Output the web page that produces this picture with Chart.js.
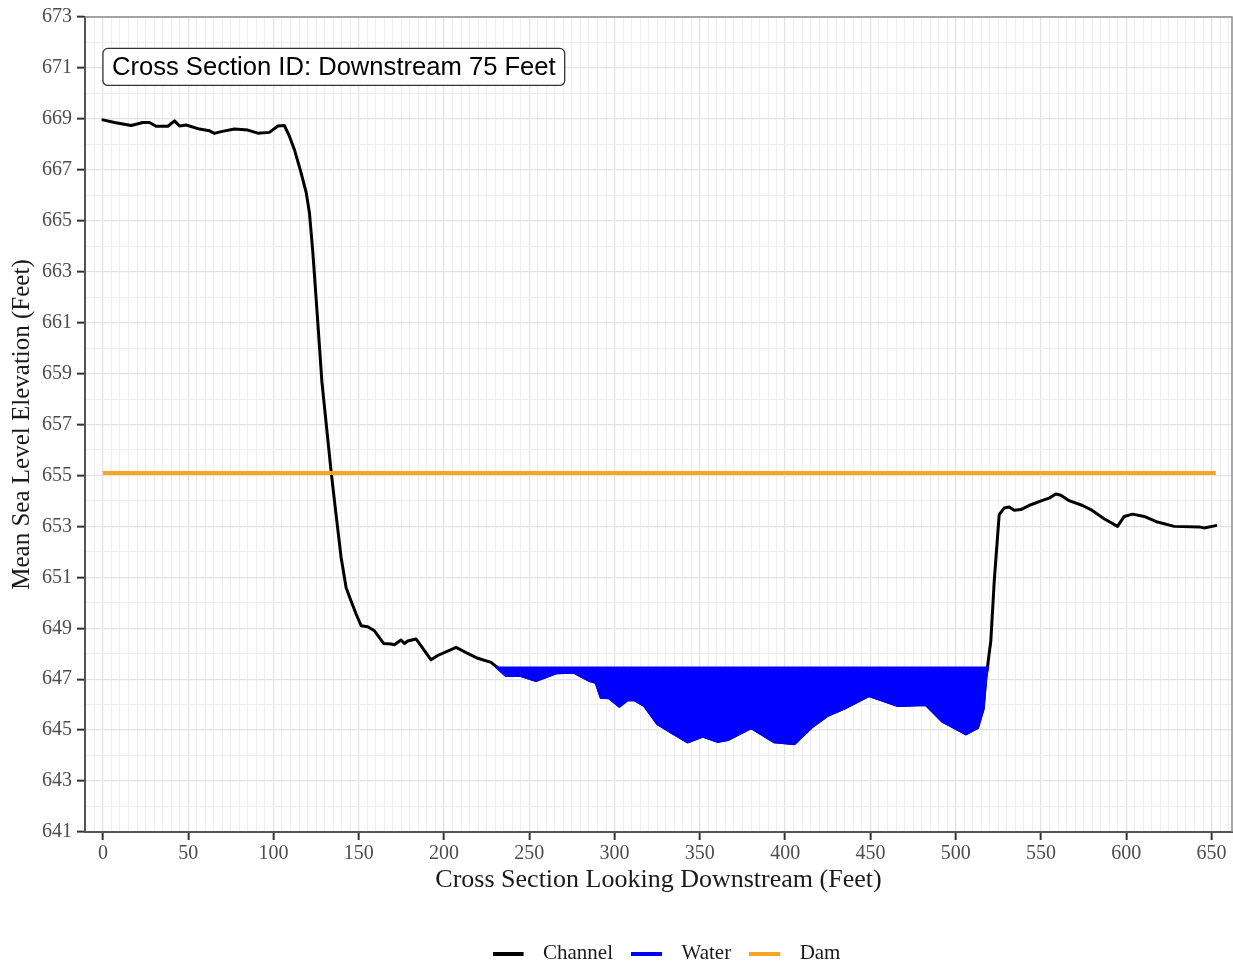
<!DOCTYPE html>
<html>
<head>
<meta charset="utf-8">
<script src="https://cdn.jsdelivr.net/npm/chart.js@4.4.1/dist/chart.umd.min.js"></script>
<style>
html,body{margin:0;padding:0;background:#ffffff;}
#wrap{width:1233px;height:966px;position:relative;}
</style>
</head>
<body>
<div id="wrap"><canvas id="c" width="1233" height="966"></canvas></div>
<script>
// ---- data ----
const seriesNames = ['Channel', 'Water', 'Dam'];
const seriesColors = ['#000000', '#0000FF', '#F5A623'];

const channelX = [0, 6.8, 16.6, 23.4, 27.3, 31.2, 38.1, 42, 44.9, 48.8, 56.6, 62.5, 65.4, 69.3, 77.1, 85, 90.8, 97.6, 102.6, 106.4, 109.4, 112.3, 116.2, 119.2, 121.1, 123.1, 125.8, 128.4, 133.8, 136.7, 139.7, 140.7, 142.6, 145.5, 148.5, 151.4, 155.3, 159.2, 164.7, 169, 170.9, 174.8, 176.8, 178.7, 183.6, 192.4, 196.3, 207.1, 213.9, 219.8, 227.6, 230.5, 236.4, 245.2, 254, 265.7, 276.4, 285.2, 289.1, 292.1, 296.9, 302.8, 307.7, 311.6, 317.4, 325.3, 333.1, 342.9, 351.7, 360.5, 366.3, 380, 393.6, 405.3, 415.1, 424.9, 434.7, 449.3, 465.9, 482.5, 492.3, 506, 512.8, 516.1, 517.7, 518.7, 519.6, 520.6, 522.6, 523.6, 525.5, 528.4, 531.4, 534.3, 538.2, 544.1, 550.9, 554.8, 558.7, 561.7, 566.5, 574.4, 579.2, 587, 594.9, 598.8, 603.7, 610.5, 618.3, 628.1, 642.7, 645.6, 652.5];
const channelY = [668.96, 668.86, 668.74, 668.86, 668.86, 668.71, 668.71, 668.92, 668.72, 668.76, 668.6, 668.53, 668.43, 668.5, 668.6, 668.56, 668.44, 668.47, 668.72, 668.74, 668.31, 667.79, 666.88, 666.1, 665.31, 663.75, 661.2, 658.67, 655.15, 653.46, 651.76, 651.37, 650.59, 650.07, 649.55, 649.1, 649.06, 648.9, 648.4, 648.38, 648.35, 648.54, 648.4, 648.5, 648.58, 647.76, 647.93, 648.25, 648.01, 647.82, 647.66, 647.5, 647.14, 647.14, 646.95, 647.25, 647.27, 646.95, 646.88, 646.29, 646.27, 645.94, 646.2, 646.19, 645.97, 645.25, 644.93, 644.54, 644.77, 644.56, 644.63, 645.1, 644.54, 644.47, 645.1, 645.58, 645.86, 646.36, 645.97, 646.01, 645.35, 644.86, 645.1, 645.84, 647.08, 647.5, 648.0, 648.5, 650.85, 651.76, 653.46, 653.72, 653.76, 653.63, 653.66, 653.85, 654.02, 654.11, 654.27, 654.22, 654.01, 653.82, 653.66, 653.3, 653.0, 653.39, 653.48, 653.39, 653.17, 653.0, 652.98, 652.94, 653.03];

const waterX = [230.5, 236.4, 245.2, 254, 265.7, 276.4, 285.2, 289.1, 292.1, 296.9, 302.8, 307.7, 311.6, 317.4, 325.3, 333.1, 342.9, 351.7, 360.5, 366.3, 380, 393.6, 405.3, 415.1, 424.9, 434.7, 449.3, 465.9, 482.5, 492.3, 506, 512.8, 516.1, 517.7, 518.7];
const waterY = [647.5, 647.14, 647.14, 646.95, 647.25, 647.27, 646.95, 646.88, 646.29, 646.27, 645.94, 646.2, 646.19, 645.97, 645.25, 644.93, 644.54, 644.77, 644.56, 644.63, 645.1, 644.54, 644.47, 645.1, 645.58, 645.86, 646.36, 645.97, 646.01, 645.35, 644.86, 645.1, 645.84, 647.08, 647.5];
const waterSurface = 647.5;

const damX = [0, 652.5];
const damY = [655.1, 655.1];

const xTickLabels = [0, 50, 100, 150, 200, 250, 300, 350, 400, 450, 500, 550, 600, 650];
const yTickLabels = [641, 643, 645, 647, 649, 651, 653, 655, 657, 659, 661, 663, 665, 667, 669, 671, 673];

const xTitle = 'Cross Section Looking Downstream (Feet)';
const yTitle = 'Mean Sea Level Elevation (Feet)';
const annotationText = 'Cross Section ID: Downstream 75 Feet';
const annotationX = 0;
const annotationY = 671;

// ---- helpers ----
const pts = (xs, ys) => xs.map((x, i) => ({x: x, y: ys[i]}));
const range = (a, b, s) => { const r = []; for (let v = a; v <= b + 1e-9; v += s) r.push(Math.round(v * 100) / 100); return r; };

function swatch(color) {
  const c = document.createElement('canvas');
  c.width = 40; c.height = 4;
  const g = c.getContext('2d');
  g.fillStyle = color;
  g.fillRect(0, 0, 31, 4);
  return c;
}

const SERIF = '"Liberation Serif", "DejaVu Serif", serif';

const deco = {
  id: 'deco',
  afterLayout(chart) {
    // nudge the legend row slightly to the right like the reference
    if (chart.legend) { chart.legend.left += 8; chart.legend.right += 8; }
  },
  afterDatasetsDraw(chart) {
    const {ctx, chartArea: a, scales} = chart;
    ctx.save();
    ctx.strokeStyle = '#8c8c8c';
    ctx.lineWidth = 1.5;
    ctx.beginPath();
    ctx.moveTo(a.left, a.top);
    ctx.lineTo(a.right, a.top);
    ctx.lineTo(a.right, a.bottom);
    ctx.stroke();

    ctx.font = '25.6px "Liberation Sans", Arial, sans-serif';
    const tw = ctx.measureText(annotationText).width;
    const bx = scales.x.getPixelForValue(annotationX);
    const by = scales.y.getPixelForValue(annotationY);
    const pad = 9, h = 37;
    ctx.beginPath();
    ctx.roundRect(bx, by - 19.5, tw + 2 * pad, h, 5);
    ctx.fillStyle = '#ffffff';
    ctx.fill();
    ctx.strokeStyle = '#333333';
    ctx.lineWidth = 1.3;
    ctx.stroke();
    ctx.fillStyle = '#000000';
    ctx.textBaseline = 'middle';
    ctx.textAlign = 'left';
    ctx.fillText(annotationText, bx + pad, by);
    ctx.restore();
  }
};

const chart = new Chart(document.getElementById('c'), {
  type: 'line',
  data: {
    datasets: [
      {label: seriesNames[0], data: pts(channelX, channelY), borderColor: seriesColors[0], borderWidth: 3,
       pointRadius: 0, fill: false, tension: 0, order: 2, borderJoinStyle: 'round', borderCapStyle: 'round'},
      {label: seriesNames[1], data: pts(waterX, waterY), borderColor: seriesColors[1], backgroundColor: seriesColors[1],
       borderWidth: 3, pointRadius: 0, fill: {value: waterSurface}, tension: 0, order: 1},
      {label: seriesNames[2], data: pts(damX, damY), borderColor: seriesColors[2], borderWidth: 4,
       pointRadius: 0, fill: false, tension: 0, order: 0}
    ]
  },
  options: {
    responsive: false,
    animation: false,
    devicePixelRatio: 1,
    layout: {padding: {top: 13, right: 1, bottom: 0, left: 0}},
    plugins: {
      tooltip: {enabled: false},
      legend: {
        position: 'bottom',
        fullSize: false,
        maxHeight: 41,
        labels: {
          usePointStyle: true,
          pointStyleWidth: 40,
          boxHeight: 4,
          padding: 18,
          color: '#1a1a1a',
          font: {family: SERIF, size: 21},
          generateLabels: (ch) => ch.data.datasets.map((ds, i) => ({
            text: ds.label, fillStyle: seriesColors[i], strokeStyle: seriesColors[i], lineWidth: 0,
            pointStyle: swatch(seriesColors[i]), hidden: false, datasetIndex: i, fontColor: '#1a1a1a'
          }))
        }
      }
    },
    scales: {
      x: {
        type: 'linear',
        min: -10.5,
        max: 662,
        afterBuildTicks: (s) => { s.ticks = range(-10, 660, 5).map(v => ({value: v})); },
        afterFit: (s) => { s.height = 93; },
        border: {color: '#555555', width: 2},
        grid: {
          color: (c) => xTickLabels.includes(c.tick && c.tick.value) ? '#e4e4e4' : '#eeeeee',
          lineWidth: (c) => xTickLabels.includes(c.tick && c.tick.value) ? 1.3 : 1,
          tickColor: (c) => xTickLabels.includes(c.tick && c.tick.value) ? '#333333' : 'rgba(0,0,0,0)',
          tickWidth: 2,
          tickLength: 8,
          drawTicks: true
        },
        ticks: {
          autoSkip: false, maxRotation: 0, minRotation: 0, padding: 2,
          color: '#4d4d4d', font: {family: SERIF, size: 20},
          callback: (v) => xTickLabels.includes(v) ? String(v) : ''
        },
        title: {display: true, text: xTitle, color: '#1a1a1a', font: {family: SERIF, size: 26},
                padding: {top: 0, bottom: 29}}
      },
      y: {
        type: 'linear',
        min: 641,
        max: 673,
        afterBuildTicks: (s) => { s.ticks = range(641, 673, 1).map(v => ({value: v})); },
        afterFit: (s) => { s.width = 85; },
        border: {color: '#555555', width: 2},
        grid: {
          color: (c) => yTickLabels.includes(c.tick && c.tick.value) ? '#e4e4e4' : '#eeeeee',
          lineWidth: (c) => yTickLabels.includes(c.tick && c.tick.value) ? 1.3 : 1,
          tickColor: (c) => yTickLabels.includes(c.tick && c.tick.value) ? '#333333' : 'rgba(0,0,0,0)',
          tickWidth: 2,
          tickLength: 8,
          drawTicks: true
        },
        ticks: {
          autoSkip: false, padding: 5,
          color: '#4d4d4d', font: {family: SERIF, size: 20},
          callback: (v) => yTickLabels.includes(v) ? String(v) : ''
        },
        title: {display: true, text: yTitle, color: '#1a1a1a', font: {family: SERIF, size: 25},
                padding: {top: 7, bottom: 0}}
      }
    }
  },
  plugins: [deco]
});
</script>
</body>
</html>
